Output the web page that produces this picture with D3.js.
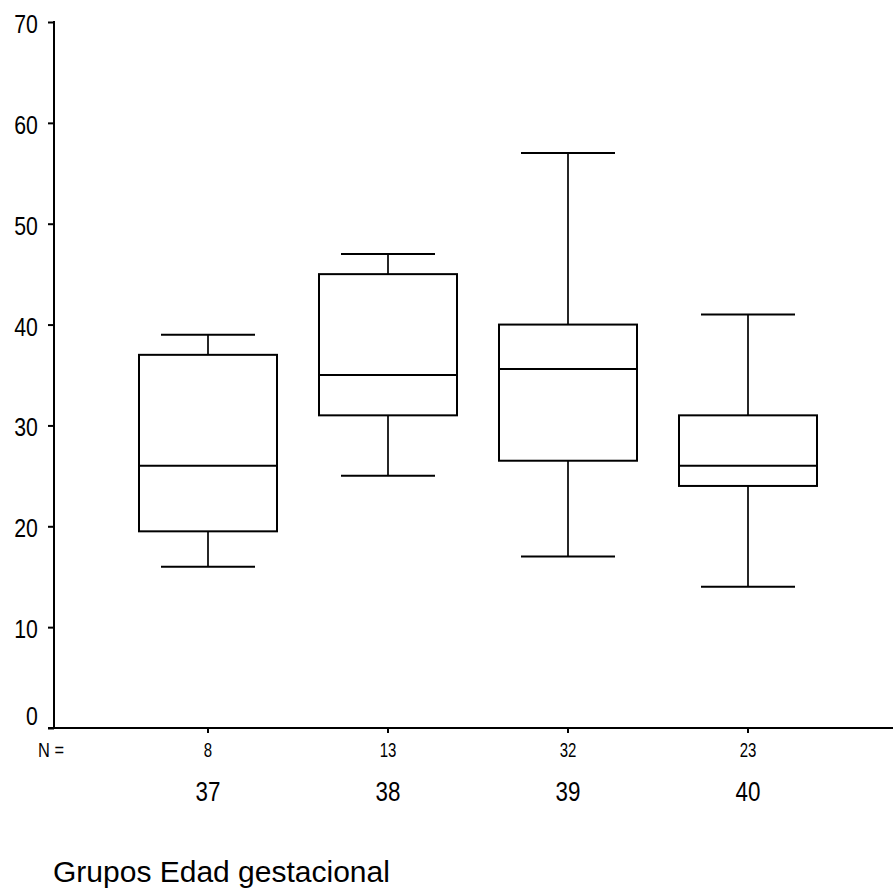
<!DOCTYPE html>
<html>
<head>
<meta charset="utf-8">
<script src="https://cdn.jsdelivr.net/npm/d3@7"></script>
<style>
  body { margin: 0; background: #fff; }
  text { font-family: Arial, "Liberation Sans", sans-serif; fill: #000; }
</style>
</head>
<body>
<div id="chart-area"></div>
<script>
// data
const groups = ["37", "38", "39", "40"]
const counts = [8, 13, 32, 23]
const whiskerLow = [16, 25, 17, 14]
const q1 = [19.5, 31, 26.5, 24]
const median = [26, 35, 35.6, 26]
const q3 = [37, 45, 40, 31]
const whiskerHigh = [39, 47, 57, 41]
const yTicks = [0, 10, 20, 30, 40, 50, 60, 70]

const W = 893, H = 892
const AXIS_X = 54, AXIS_Y = 728, TOP = 22

const svg = d3.select("#chart-area").append("svg")
  .attr("width", W)
  .attr("height", H)

const y = d3.scaleLinear().domain([0, 70]).range([AXIS_Y, TOP])
const x = d3.scaleBand().domain(groups).range([118, 838])

const boxes = groups.map((g, i) => ({
  g, n: counts[i], lo: whiskerLow[i], q1: q1[i], med: median[i], q3: q3[i], hi: whiskerHigh[i]
}))

// y axis
const yAxis = svg.append("g")
  .attr("transform", `translate(${AXIS_X},0)`)
  .call(d3.axisLeft(y).tickValues(yTicks).tickSize(6).tickSizeOuter(0))
yAxis.select(".domain").remove()
yAxis.selectAll(".tick line").attr("stroke", "#000").attr("stroke-width", 2)
yAxis.selectAll(".tick text")
  .attr("font-size", 25)
  .attr("x", -19)
  .attr("dy", d => d === 0 ? "-0.15em" : "0.42em")
  .attr("transform", "scale(0.85,1)")
svg.append("line")
  .attr("x1", AXIS_X).attr("x2", AXIS_X)
  .attr("y1", y(70) - 1).attr("y2", AXIS_Y)
  .attr("stroke", "#000").attr("stroke-width", 2)

// x axis, N counts as tick labels
const xAxis = svg.append("g")
  .attr("transform", `translate(0,${AXIS_Y})`)
  .call(d3.axisBottom(x).tickSize(5).tickSizeOuter(0).tickFormat((d, i) => counts[i]))
xAxis.select(".domain").remove()
xAxis.selectAll(".tick line").attr("stroke", "#000").attr("stroke-width", 2)
xAxis.selectAll(".tick text")
  .attr("font-size", 20)
  .attr("y", 29)
  .attr("dy", 0)
  .attr("transform", "scale(0.75,1)")
svg.append("line")
  .attr("x1", 48).attr("x2", W)
  .attr("y1", AXIS_Y).attr("y2", AXIS_Y)
  .attr("stroke", "#000").attr("stroke-width", 2)

svg.append("text")
  .attr("x", 38 / 0.82).attr("y", 757)
  .attr("font-size", 20)
  .attr("transform", "scale(0.82,1)")
  .text("N =")

// group labels
svg.selectAll(".grp")
  .data(boxes)
  .enter().append("text")
  .attr("class", "grp")
  .attr("x", d => (x(d.g) + x.bandwidth() / 2) / 0.8)
  .attr("y", 801)
  .attr("font-size", 28)
  .attr("text-anchor", "middle")
  .attr("transform", "scale(0.8,1)")
  .text(d => d.g)

// title
svg.append("text")
  .attr("x", 53).attr("y", 882)
  .attr("font-size", 30)
  .text("Grupos Edad gestacional")

// boxplots
const BOX_HALF = 69, CAP_HALF = 47
const bx = svg.append("g").attr("fill", "none").attr("stroke", "#000")

boxes.forEach(d => {
  const cx = x(d.g) + x.bandwidth() / 2
  const g = bx.append("g")
  g.append("line")
    .attr("x1", cx).attr("x2", cx)
    .attr("y1", y(d.hi)).attr("y2", y(d.q3))
    .attr("stroke-width", 1.7)
  g.append("line")
    .attr("x1", cx).attr("x2", cx)
    .attr("y1", y(d.q1)).attr("y2", y(d.lo))
    .attr("stroke-width", 1.7)
  g.append("line")
    .attr("x1", cx - CAP_HALF).attr("x2", cx + CAP_HALF)
    .attr("y1", y(d.hi)).attr("y2", y(d.hi))
    .attr("stroke-width", 2)
  g.append("line")
    .attr("x1", cx - CAP_HALF).attr("x2", cx + CAP_HALF)
    .attr("y1", y(d.lo)).attr("y2", y(d.lo))
    .attr("stroke-width", 2)
  g.append("rect")
    .attr("x", cx - BOX_HALF)
    .attr("y", y(d.q3))
    .attr("width", BOX_HALF * 2)
    .attr("height", y(d.q1) - y(d.q3))
    .attr("fill", "#fff")
    .attr("stroke-width", 2)
  g.append("line")
    .attr("x1", cx - BOX_HALF).attr("x2", cx + BOX_HALF)
    .attr("y1", y(d.med)).attr("y2", y(d.med))
    .attr("stroke-width", 2)
})
</script>
</body>
</html>
